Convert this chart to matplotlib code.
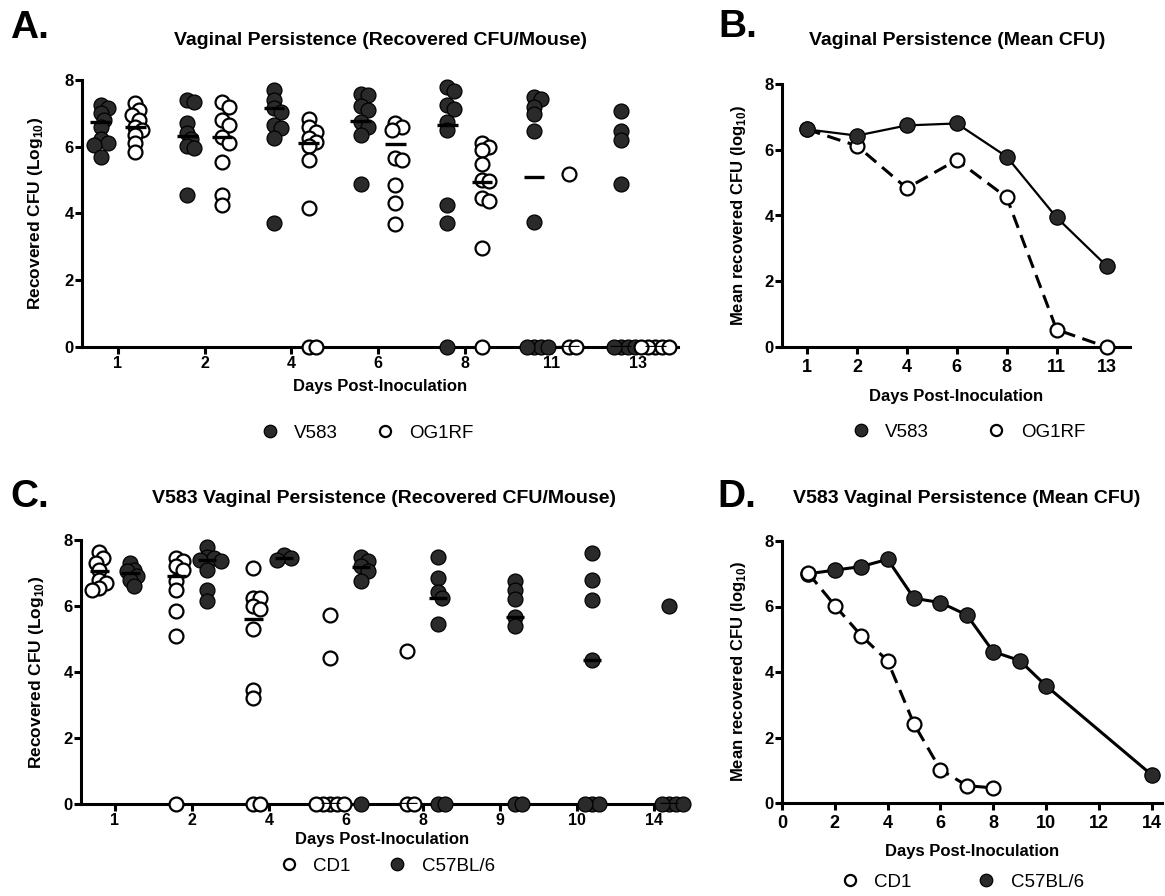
import numpy as np
import matplotlib
matplotlib.use('Agg')
import matplotlib.pyplot as plt
from matplotlib.lines import Line2D

plt.rcParams['font.family'] = ['Liberation Sans', 'DejaVu Sans']
plt.rcParams['mathtext.fontset'] = 'custom'
plt.rcParams['mathtext.rm'] = 'Liberation Sans'
plt.rcParams['mathtext.bf'] = 'Liberation Sans:bold'

# ---- panel A: recovered CFU per mouse (log10), V583 vs OG1RF ----
a_days = ['1', '2', '4', '6', '8', '11', '13']
a_v583 = [
    [7.25, 7.15, 7.0, 6.8, 6.6, 6.22, 6.12, 6.05, 5.68],
    [7.4, 7.35, 6.7, 6.42, 6.22, 6.02, 5.95, 4.56],
    [7.7, 7.4, 7.15, 7.05, 6.65, 6.55, 6.25, 3.71],
    [7.57, 7.55, 7.22, 7.1, 6.75, 6.6, 6.35, 4.89],
    [7.78, 7.68, 7.25, 7.12, 6.75, 6.5, 4.26, 3.71, 0],
    [7.48, 7.42, 7.2, 6.98, 6.47, 3.74, 0, 0, 0, 0],
    [7.08, 6.47, 6.2, 4.89, 0, 0, 0, 0],
]
a_og1rf = [
    [7.3, 7.1, 6.95, 6.8, 6.6, 6.5, 6.35, 6.12, 5.85],
    [7.35, 7.2, 6.8, 6.65, 6.3, 6.12, 5.55, 4.55, 4.25],
    [6.82, 6.58, 6.45, 6.25, 6.15, 6.02, 5.6, 4.16, 0, 0],
    [6.7, 6.6, 6.5, 5.65, 5.6, 4.85, 4.3, 3.7],
    [6.12, 6.0, 5.9, 5.49, 5.0, 4.96, 4.46, 4.36, 2.98, 0],
    [5.19, 0, 0],
    [0, 0, 0, 0, 0],
]
a_v583_med = [6.75, 6.32, 7.15, 6.78, 6.65, 5.1, 0]
a_og1rf_med = [6.6, 6.3, 6.1, 6.07, 4.93, 0, 0]

# ---- panel B: mean CFU ----
b_v583_mean = [6.62, 6.43, 6.74, 6.8, 5.79, 3.94, 2.47]
b_og1rf_mean = [6.62, 6.12, 4.83, 5.69, 4.55, 0.53, 0.0]

# ---- panel C: V583 in CD1 vs C57BL/6 ----
c_days = ['1', '2', '4', '6', '8', '9', '10', '14']
c_cd1 = [
    [7.65, 7.45, 7.3, 7.1, 6.8, 6.7, 6.55, 6.5],
    [7.45, 7.35, 7.2, 7.1, 6.75, 6.5, 5.85, 5.1, 0],
    [7.15, 6.25, 6.25, 6.0, 5.9, 5.3, 3.45, 3.2, 0, 0],
    [5.73, 4.41, 0, 0, 0, 0, 0],
    [4.65, 0, 0],
    [], [], [],
]
c_c57 = [
    [7.3, 7.1, 7.05, 6.9, 6.8, 6.6],
    [7.8, 7.5, 7.45, 7.4, 7.35, 7.1, 6.5, 6.15],
    [7.55, 7.45, 7.4],
    [7.5, 7.35, 7.2, 7.05, 6.75, 0],
    [7.5, 6.86, 6.43, 6.23, 5.45, 0, 0],
    [6.76, 6.5, 6.2, 5.66, 5.4, 0, 0],
    [7.6, 6.8, 6.18, 4.36, 0, 0, 0],
    [6.0, 0, 0, 0, 0],
]
c_cd1_med = [7.05, 6.9, 5.6, 0, 0, np.nan, np.nan, np.nan]
c_c57_med = [7.0, 7.4, 7.45, 7.17, 6.23, 5.66, 4.36, 0]

# ---- panel D: mean CFU by mouse strain ----
d_cd1_days = [1, 2, 3, 4, 5, 6, 7, 8]
d_cd1_mean = [7.01, 6.03, 5.11, 4.34, 2.41, 1.02, 0.53, 0.46]
d_c57_days = [1, 2, 3, 4, 5, 6, 7, 8, 9, 10, 14]
d_c57_mean = [7.0, 7.11, 7.22, 7.44, 6.25, 6.12, 5.74, 4.62, 4.35, 3.58, 0.86]

W, H = 1165, 896
DARK = '#2a2a2a'


def fx(x):
    return x / W


def fy(y):
    return 1 - y / H


def add_axes(fig, l, t, r, b):
    return fig.add_axes([fx(l), fy(b), (r - l) / W, (b - t) / H])


def style(ax, xfs, yfs, xpad):
    for s in ['top', 'right']:
        ax.spines[s].set_visible(False)
    for s in ['left', 'bottom']:
        ax.spines[s].set_linewidth(2.2)
    ax.set_ylim(0, 8)
    ax.set_yticks([0, 2, 4, 6, 8])
    ax.set_yticklabels(['0', '2', '4', '6', '8'], fontweight='bold')
    ax.tick_params(axis='both', width=2.2, length=5, direction='out')
    ax.tick_params(axis='x', labelsize=xfs, pad=xpad)
    ax.tick_params(axis='y', labelsize=yfs, pad=1)


def swarm(ax, xc, ys, gap=7.0, step=3.5):
    """spread points sideways so they don't pile on top of each other"""
    tr = ax.transData
    inv = tr.inverted()
    placed = []
    xs = []
    for y in ys:
        px, py = tr.transform((xc, y))
        k = 0
        while True:
            off = ((k + 1) // 2) * (1 if k % 2 else -1) * step
            cand = px + off
            if all(np.hypot(cand - qx, py - qy) >= gap for qx, qy in placed):
                break
            k += 1
        placed.append((cand, py))
        xs.append(inv.transform((cand, py))[0])
    return xs


def dots(ax, groups, meds, shift, filled):
    for i, ys in enumerate(groups):
        if len(ys) == 0:
            continue
        xs = swarm(ax, i + shift, ys)
        if filled:
            ax.scatter(xs, ys, s=115, facecolor=DARK, edgecolor='black',
                       linewidth=0.9, zorder=3, clip_on=False)
        else:
            ax.scatter(xs, ys, s=100, facecolor='white', edgecolor='black',
                       linewidth=1.6, zorder=3, clip_on=False)
    for i, m in enumerate(meds):
        if not np.isnan(m):
            ax.hlines(m, i + shift - 0.12, i + shift + 0.12, color='black',
                      linewidth=2.4, zorder=4)


fig = plt.figure(figsize=(W / 100, H / 100), dpi=100)

filled_h = Line2D([], [], marker='o', ls='none', markersize=9,
                  markerfacecolor=DARK, markeredgecolor='black', markeredgewidth=0.9)
open_h = Line2D([], [], marker='o', ls='none', markersize=8,
                markerfacecolor='white', markeredgecolor='black', markeredgewidth=1.6)

# A
axA = add_axes(fig, 82, 80, 678, 347)
axA.set_xlim(-0.415, 6.46)
axA.set_xticks(range(len(a_days)))
axA.set_xticklabels(a_days, fontweight='bold')
style(axA, 11.5, 12, 1.5)
dots(axA, a_v583, a_v583_med, -0.2, True)
dots(axA, a_og1rf, a_og1rf_med, 0.2, False)
axA.set_ylabel('Recovered CFU (Log$_{\\mathbf{10}}$)', fontsize=12.5, fontweight='bold')
axA.yaxis.set_label_coords((45 - 82) / 596, 0.5)
axA.set_xlabel('Days Post-Inoculation', fontsize=12, fontweight='bold', va='center')
axA.xaxis.set_label_coords(0.5, -(387 - 347) / 267)
fig.legend([filled_h, open_h], ['V583', 'OG1RF'], loc='center',
           bbox_to_anchor=(fx(369), fy(433)), ncol=2, frameon=False, fontsize=13.5,
           handlelength=0.6, handletextpad=1.0, columnspacing=2.2)

# B
axB = add_axes(fig, 782, 84, 1130, 347)
axB.set_xlim(-0.5, 6.47)
xb = np.arange(len(a_days))
axB.set_xticks(xb)
axB.set_xticklabels(a_days, fontweight='bold')
style(axB, 13, 12, 4)
axB.plot(xb, b_og1rf_mean, color='black', lw=2.2, ls=(0, (4.5, 2.5)), marker='o',
         markersize=10, markerfacecolor='white', markeredgecolor='black',
         markeredgewidth=1.6, zorder=3, clip_on=False)
axB.plot(xb, b_v583_mean, color='black', lw=1.6, marker='o', markersize=11,
         markerfacecolor=DARK, markeredgecolor='black', markeredgewidth=0.9,
         zorder=4, clip_on=False)
axB.set_ylabel('Mean recovered CFU (log$_{\\mathbf{10}}$)', fontsize=12, fontweight='bold')
axB.yaxis.set_label_coords((748 - 782) / 348, 0.5)
axB.set_xlabel('Days Post-Inoculation', fontsize=12, fontweight='bold', va='center')
axB.xaxis.set_label_coords(0.5, -(396 - 347) / 263)
fig.legend([filled_h, open_h], ['V583', 'OG1RF'], loc='center',
           bbox_to_anchor=(fx(970), fy(432)), ncol=2, frameon=False, fontsize=13.5,
           handlelength=0.6, handletextpad=1.0, columnspacing=3.3)

# C
axC = add_axes(fig, 81, 540, 683, 804)
axC.set_xlim(-0.44, 7.38)
axC.set_xticks(range(len(c_days)))
axC.set_xticklabels(c_days, fontweight='bold')
style(axC, 11.5, 12, 1.5)
dots(axC, c_cd1, c_cd1_med, -0.2, False)
dots(axC, c_c57, c_c57_med, 0.2, True)
axC.set_ylabel('Recovered CFU (Log$_{\\mathbf{10}}$)', fontsize=12.5, fontweight='bold')
axC.yaxis.set_label_coords((46 - 81) / 602, 0.5)
axC.set_xlabel('Days Post-Inoculation', fontsize=12, fontweight='bold', va='center')
axC.xaxis.set_label_coords(0.5, -(839 - 804) / 264)
fig.legend([open_h, filled_h], ['CD1', 'C57BL/6'], loc='center',
           bbox_to_anchor=(fx(389), fy(866)), ncol=2, frameon=False, fontsize=13.5,
           handlelength=0.6, handletextpad=1.0, columnspacing=2.2)

# D
axD = add_axes(fig, 782, 541, 1162, 803)
axD.set_xlim(0, 14.39)
axD.set_xticks(range(0, 15, 2))
axD.set_xticklabels([str(v) for v in range(0, 15, 2)], fontweight='bold')
style(axD, 13, 12, 4)
axD.plot(d_c57_days, d_c57_mean, color='black', lw=2.2, marker='o', markersize=11,
         markerfacecolor=DARK, markeredgecolor='black', markeredgewidth=0.9,
         zorder=3, clip_on=False)
axD.plot(d_cd1_days, d_cd1_mean, color='black', lw=2.2, ls=(0, (4.5, 2.5)), marker='o',
         markersize=10, markerfacecolor='white', markeredgecolor='black',
         markeredgewidth=1.6, zorder=4, clip_on=False)
axD.set_ylabel('Mean recovered CFU (log$_{\\mathbf{10}}$)', fontsize=12, fontweight='bold')
axD.yaxis.set_label_coords((748 - 782) / 380, 0.5)
axD.set_xlabel('Days Post-Inoculation', fontsize=12, fontweight='bold', va='center')
axD.xaxis.set_label_coords(0.5, -(851 - 803) / 262)
fig.legend([open_h, filled_h], ['CD1', 'C57BL/6'], loc='center',
           bbox_to_anchor=(fx(964), fy(882)), ncol=2, frameon=False, fontsize=13.5,
           handlelength=0.6, handletextpad=1.0, columnspacing=3.7)

# panel letters and titles
for letter, x, y in [('A.', 10, 38), ('B.', 718, 37), ('C.', 10, 507), ('D.', 717, 507)]:
    fig.text(fx(x), fy(y), letter, fontsize=28, fontweight='bold', va='baseline')
titles = [
    ('Vaginal Persistence (Recovered CFU/Mouse)', 380, 45),
    ('Vaginal Persistence (Mean CFU)', 957, 45),
    ('V583 Vaginal Persistence (Recovered CFU/Mouse)', 384, 503),
    ('V583 Vaginal Persistence (Mean CFU)', 967, 503),
]
for txt, x, y in titles:
    fig.text(fx(x), fy(y), txt, fontsize=14, fontweight='bold', ha='center', va='baseline')

fig.savefig('out.png', dpi=100)
